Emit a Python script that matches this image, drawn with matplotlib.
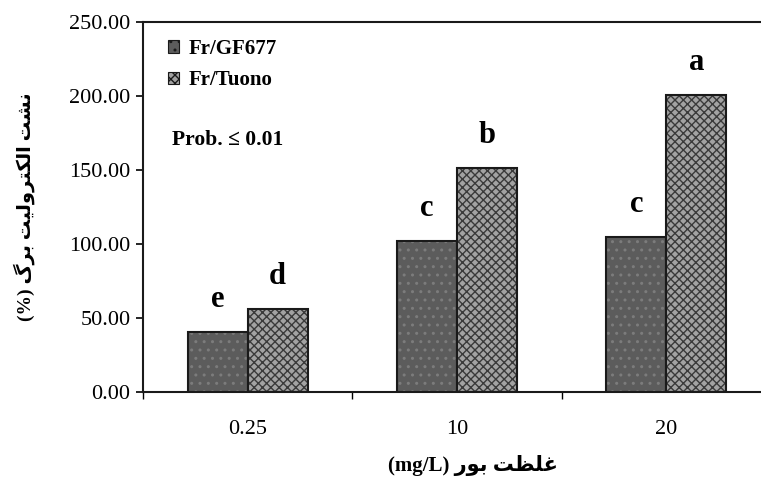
import numpy as np
import matplotlib
matplotlib.use('Agg')
import matplotlib.pyplot as plt
from matplotlib.patches import Patch

# dados
categorias = ['0.25', '10', '20']
series = ['Fr/GF677', 'Fr/Tuono']
gf677 = [40.5, 102.0, 104.7]
tuono = [56.0, 151.4, 200.7]
letras_gf677 = ['e', 'c', 'c']
letras_tuono = ['d', 'b', 'a']
y_ticks = [0, 50, 100, 150, 200, 250]

titulo_y = 'نشت الکترولیت برگ'
titulo_x = 'غلظت بور'

# formas de apresentacao (isolada, final, inicial, medial)
formas = {
    'ن': '\ufee5\ufee6\ufee7\ufee8',
    'ش': '\ufeb5\ufeb6\ufeb7\ufeb8',
    'ت': '\ufe95\ufe96\ufe97\ufe98',
    'ا': '\ufe8d\ufe8e',
    'ل': '\ufedd\ufede\ufedf\ufee0',
    'ک': '\ufb8e\ufb8f\ufb90\ufb91',
    'ر': '\ufead\ufeae',
    'و': '\ufeed\ufeee',
    'ی': '\ufbfc\ufbfd\ufbfe\ufbff',
    'ب': '\ufe8f\ufe90\ufe91\ufe92',
    'گ': '\ufb92\ufb93\ufb94\ufb95',
    'غ': '\ufecd\ufece\ufecf\ufed0',
    'ظ': '\ufec5\ufec6\ufec7\ufec8',
}


def shape(s):
    out = []
    for i, ch in enumerate(s):
        if ch not in formas:
            out.append(ch)
            continue
        prev = s[i - 1] if i > 0 else ''
        nxt = s[i + 1] if i + 1 < len(s) else ''
        j_prev = prev in formas and len(formas[prev]) == 4
        j_next = nxt in formas and len(formas[ch]) == 4
        f = formas[ch]
        if j_prev and j_next:
            out.append(f[3])
        elif j_prev:
            out.append(f[1])
        elif j_next:
            out.append(f[2])
        else:
            out.append(f[0])
    return ''.join(reversed(out))


plt.rcParams['font.family'] = ['Liberation Serif', 'DejaVu Sans']

fig = plt.figure(figsize=(7.61, 4.78), dpi=100)
ax = fig.add_axes([143 / 761, 86 / 478, 628 / 761, 370 / 478])

x = np.arange(len(categorias))
w = 0.287

estilos = [
    dict(face='#5c5c5c', hatch='..', hcol='#7c7c7c'),
    dict(face='#a2a2a2', hatch='xxxx', hcol='#3a3a3a'),
]

for k, (vals, letras) in enumerate([(gf677, letras_gf677), (tuono, letras_tuono)]):
    pos = x + (k - 0.5) * w
    st = estilos[k]
    ax.bar(pos, vals, w, color=st['face'], hatch=st['hatch'], edgecolor=st['hcol'], linewidth=0)
    ax.bar(pos, vals, w, fill=False, edgecolor='#1a1a1a', linewidth=1.5)
    for p, v, l in zip(pos, vals, letras):
        ax.text(p, v + 22, l, ha='center', va='center', fontsize=22, fontweight='bold')

ax.set_xlim(-0.5, 2.5)
ax.set_ylim(0, 250)
ax.set_yticks(y_ticks)
ax.set_yticklabels([f'{v:.2f}' for v in y_ticks], fontsize=16)
ax.set_xticks(x)
ax.set_xticklabels(categorias, fontsize=16)
ax.set_xticks([-0.5, 0.5, 1.5], minor=True)
ax.tick_params(axis='x', which='major', length=0, pad=20)
ax.tick_params(axis='x', which='minor', length=5, width=1, direction='out')
ax.tick_params(axis='y', length=5, width=1.2, direction='out', pad=4)

ax.spines['right'].set_visible(False)
for s in ['left', 'bottom', 'top']:
    ax.spines[s].set_linewidth(1.5)
    ax.spines[s].set_color('#1a1a1a')

handles = [Patch(facecolor=estilos[k]['face'], hatch=estilos[k]['hatch'], edgecolor='#1a1a1a', linewidth=0.8)
           for k in range(2)]
leg = ax.legend(handles, series, loc='upper left', bbox_to_anchor=(0.01, 1.005), frameon=False,
                prop={'size': 15, 'weight': 'bold'}, handlelength=0.55, handleheight=0.55,
                handletextpad=0.45, labelspacing=0.55)

ax.text(0.046, 0.68, 'Prob. ≤ 0.01', transform=ax.transAxes, fontsize=15.5, fontweight='bold',
        ha='left', va='center')

ax.set_ylabel('(%) ' + shape(titulo_y), fontsize=14, fontweight='bold')
ax.yaxis.set_label_coords(-108 / 628, 0.5)
ax.set_xlabel('(mg/L) ' + shape(titulo_x), fontsize=15, fontweight='bold')
ax.xaxis.set_label_coords(330 / 628, -63 / 370)

fig.savefig('out.png', dpi=100)
